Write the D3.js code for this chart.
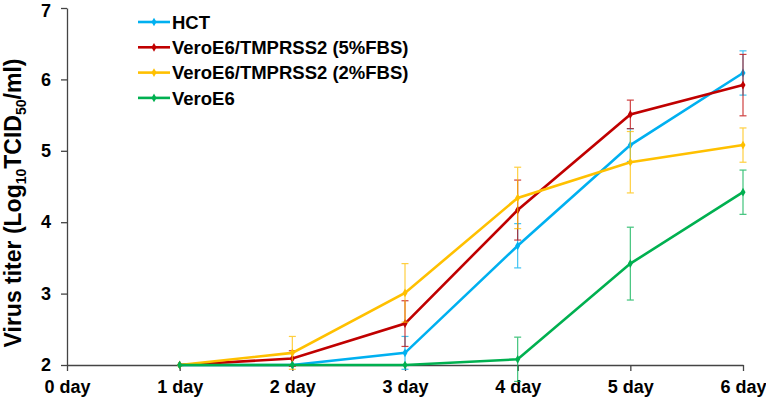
<!DOCTYPE html>
<html>
<head>
<meta charset="utf-8">
<script src="https://cdn.jsdelivr.net/npm/d3@7"></script>
<style>
  body { margin: 0; background: #fff; }
  text { font-family: "Liberation Sans", Arial, sans-serif; font-weight: bold; fill: #000; }
</style>
</head>
<body>
<div id="chart"></div>
<script>
const days = [0, 1, 2, 3, 4, 5, 6];
const dayLabels = ["0 day", "1 day", "2 day", "3 day", "4 day", "5 day", "6 day"];
const yTicks = [2, 3, 4, 5, 6, 7];

const seriesNames = ["HCT", "VeroE6/TMPRSS2 (5%FBS)", "VeroE6/TMPRSS2 (2%FBS)", "VeroE6"];
const seriesColors = ["#00B0F0", "#C00000", "#FFC000", "#00B050"];
const seriesDays = [1, 2, 3, 4, 5, 6];

const hctValues = [2.0, 2.0, 2.17, 3.67, 5.08, 6.09];
const hctErr = [0, 0, 0.23, 0.31, 0.23, 0.31];
const vt5Values = [2.0, 2.09, 2.58, 4.17, 5.51, 5.92];
const vt5Err = [0, 0.11, 0.32, 0.42, 0.20, 0.43];
const vt2Values = [2.0, 2.17, 3.01, 4.34, 4.84, 5.08];
const vt2Err = [0, 0.23, 0.41, 0.43, 0.43, 0.24];
const veroValues = [2.0, 2.0, 2.0, 2.08, 3.42, 4.42];
const veroErr = [0, 0, 0, 0.31, 0.51, 0.31];

const allValues = [hctValues, vt5Values, vt2Values, veroValues];
const allErr = [hctErr, vt5Err, vt2Err, veroErr];

const width = 766, height = 398;
const margin = {top: 8, right: 23, bottom: 33, left: 67};

const svg = d3.select("#chart").append("svg")
    .attr("width", width)
    .attr("height", height);

const x = d3.scaleLinear().domain([0, 6]).range([margin.left, width - margin.right]);
const y = d3.scaleLinear().domain([2, 7]).range([height - margin.bottom, margin.top]);

// Axes
const xAxis = svg.append("g")
    .attr("transform", `translate(0,${y(2)})`)
    .call(d3.axisBottom(x).tickValues(days).tickFormat((d, i) => dayLabels[i]).tickSize(6).tickSizeOuter(0).tickPadding(9));
const yAxis = svg.append("g")
    .attr("transform", `translate(${x(0)},0)`)
    .call(d3.axisLeft(y).tickValues(yTicks).tickFormat(d3.format("d")).tickSize(6).tickSizeOuter(0).tickPadding(10));

[xAxis, yAxis].forEach(g => {
    g.select(".domain").attr("stroke", "#444").attr("stroke-width", 1.3);
    g.selectAll(".tick line").attr("stroke", "#444").attr("stroke-width", 1.3);
    g.selectAll(".tick text").style("font-family", "Liberation Sans, Arial, sans-serif").style("font-weight", "bold").attr("fill", "#000");
});
xAxis.selectAll(".tick text").style("font-size", "18px");
yAxis.selectAll(".tick text").style("font-size", "18px");
// top label sits right at the edge; nudge it so it isn't clipped
yAxis.selectAll(".tick").filter(d => d === 7).select("text").attr("y", 3);

// Y title
const yTitle = svg.append("text")
    .attr("transform", `translate(21,203) rotate(-90)`)
    .attr("text-anchor", "middle")
    .style("font-size", "23px");
yTitle.append("tspan").text("Virus titer (Log");
yTitle.append("tspan").text("10").style("font-size", "14px").attr("dy", 5);
yTitle.append("tspan").text("TCID").attr("dy", -5);
yTitle.append("tspan").text("50").style("font-size", "14px").attr("dy", 5);
yTitle.append("tspan").text("/ml)").attr("dy", -5);

const line = d3.line()
    .x(d => x(d.day))
    .y(d => y(d.value));

const diamond = d3.symbol().type(d3.symbolDiamond).size(22);

seriesNames.forEach((name, s) => {
    const pts = seriesDays.map((d, i) => ({day: d, value: allValues[s][i], err: allErr[s][i]}));
    const g = svg.append("g");

    // Error bars
    const eb = g.selectAll(".err").data(pts.filter(p => p.err > 0)).enter().append("g")
        .attr("stroke", seriesColors[s])
        .attr("stroke-width", 1.2)
        .attr("opacity", 0.75);
    eb.append("line")
        .attr("x1", d => x(d.day)).attr("x2", d => x(d.day))
        .attr("y1", d => y(d.value - d.err)).attr("y2", d => y(d.value + d.err));
    eb.append("line")
        .attr("x1", d => x(d.day) - 3.5).attr("x2", d => x(d.day) + 3.5)
        .attr("y1", d => y(d.value + d.err)).attr("y2", d => y(d.value + d.err));
    eb.append("line")
        .attr("x1", d => x(d.day) - 3.5).attr("x2", d => x(d.day) + 3.5)
        .attr("y1", d => y(d.value - d.err)).attr("y2", d => y(d.value - d.err));

    g.append("path")
        .datum(pts)
        .attr("fill", "none")
        .attr("stroke", seriesColors[s])
        .attr("stroke-width", 2.6)
        .attr("d", line);

    g.selectAll(".pt").data(pts).enter().append("path")
        .attr("d", diamond)
        .attr("transform", d => `translate(${x(d.day)},${y(d.value)})`)
        .attr("fill", seriesColors[s]);
});

// Legend
const legend = svg.append("g");
seriesNames.forEach((name, i) => {
    const ly = 22 + i * 25.3;
    legend.append("line")
        .attr("x1", 138).attr("x2", 170)
        .attr("y1", ly).attr("y2", ly)
        .attr("stroke", seriesColors[i]).attr("stroke-width", 2.6);
    legend.append("path")
        .attr("d", diamond)
        .attr("transform", `translate(154,${ly})`)
        .attr("fill", seriesColors[i]);
    legend.append("text")
        .attr("x", 172).attr("y", ly)
        .attr("dy", "0.36em")
        .style("font-size", "18.5px")
        .text(name);
});
</script>
</body>
</html>
